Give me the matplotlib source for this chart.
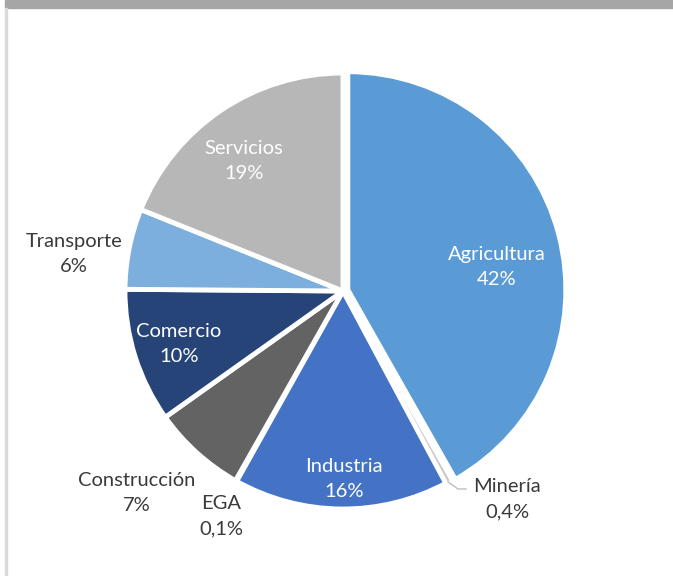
import matplotlib
matplotlib.use("Agg")
import matplotlib.pyplot as plt
import numpy as np
from matplotlib.patches import Rectangle

sectores = ["Agricultura", "Minería", "Industria", "EGA", "Construcción", "Comercio", "Transporte", "Servicios"]
valores = [42, 0.4, 16, 0.1, 7, 10, 6, 19]
porcentajes = ["42%", "0,4%", "16%", "0,1%", "7%", "10%", "6%", "19%"]
colores = ["#5B9BD5", "#C9C9C9", "#4472C4", "#8C8C8C", "#636363", "#264478", "#7CAFDD", "#B7B7B7"]

# label layout (pixel coords from top-left), text colour
pos_etiquetas = [(497, 267), (507, 499), (344, 479), (221, 516), (137, 493), (179, 344), (74, 254), (244, 161)]
col_texto = ["white", "#3A3A3A", "white", "#3A3A3A", "#3A3A3A", "white", "#3A3A3A", "white"]

W, H = 673, 576
fig = plt.figure(figsize=(6.73, 5.76), dpi=100)
ax = fig.add_axes([0, 0, 1, 1])
cx, cy, r = 343, H - 291, 218
explode = [5, 0, 0, 0, 0, 0, 0, 0]
wedges, _ = ax.pie(valores, colors=colores, startangle=90, counterclock=False,
                   center=(cx, cy), radius=r, explode=explode,
                   wedgeprops=dict(edgecolor="white", linewidth=3.5))
wedges[1].set_linewidth(1.0)
wedges[3].set_linewidth(0.5)
ax.set_xlim(0, W)
ax.set_ylim(0, H)
ax.set_aspect("equal")
ax.axis("off")

for name, pct, (x, y), c in zip(sectores, porcentajes, pos_etiquetas, col_texto):
    ax.text(x, H - y, f"{name}\n{pct}", ha="center", va="center", color=c,
            fontsize=14.5, family="Lato", linespacing=1.6)

# leader line for Minería
w = wedges[1]
tm = np.deg2rad(0.5 * (w.theta1 + w.theta2))
px, py = w.center[0] + r * np.cos(tm), w.center[1] + r * np.sin(tm)
ax.plot([px, 458, 466], [py, H - 489, H - 489], color="#BFBFBF", lw=1)

# frame decorations
fig.patches.append(Rectangle((5 / W, (H - 8) / H), 1, 8 / H, transform=fig.transFigure,
                             color="#A6A6A6", zorder=0))
fig.patches.append(Rectangle((5 / W, 0), 2 / W, (H - 8) / H, transform=fig.transFigure,
                             color="#DADADA", zorder=0))

fig.savefig("out.png", dpi=100)
